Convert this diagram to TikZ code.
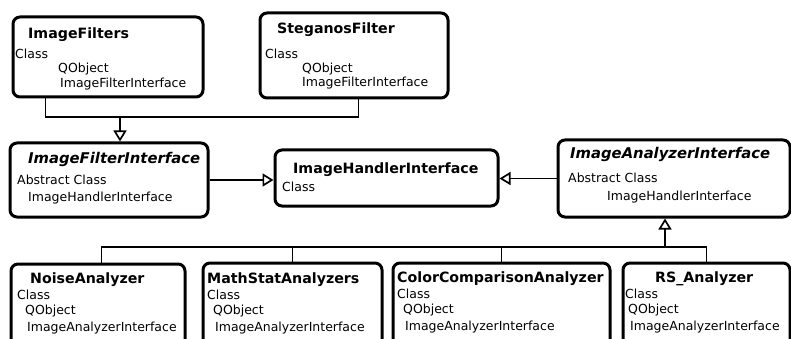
\documentclass[tikz,border=0pt]{standalone}
\usepackage{fontspec}
\setmainfont{DejaVu Sans}
\usepackage{tikz}
\usetikzlibrary{positioning,arrows.meta}
\tikzstyle{classbox} = [rectangle, rounded corners=7pt, draw=black, line width=3pt, anchor=north west, inner sep=0pt]
\tikzstyle{classtext} = [anchor=north west, align=left, inner sep=0pt, font=\fontsize{12.5}{14.5}\selectfont]
\tikzstyle{line} = [draw, line width=1.7pt]
\tikzstyle{arrow} = [draw, line width=1.7pt, -{Triangle[open, length=11pt, width=13pt]}]
\newcommand{\clsname}[1]{{\fontsize{14.2}{15}\selectfont\bfseries #1}}
\newcommand{\absname}[1]{{\fontsize{14.8}{15}\selectfont\bfseries\itshape #1}}

\begin{document}
\begin{tikzpicture}[x=1pt, y=-1pt]
    \useasboundingbox (0,0) rectangle (791,339);

    % top row
    \node (filt) [classbox, minimum width=190pt, minimum height=80pt] at (11.5,15.5) {};
    \node (steg) [classbox, minimum width=188pt, minimum height=85pt] at (258.5,11.5) {};
    \node (filt-t) [classtext] at (15,27.2) {\hspace*{13pt}\clsname{ImageFilters}\\[5.5pt] Class\\ \hspace*{43pt}QObject\\[0.5pt] \hspace*{45pt}ImageFilterInterface};
    \node (steg-t) [classtext] at (265,22.2) {\hspace*{12pt}\clsname{SteganosFilter}\\[10.5pt] Class\\ \hspace*{37pt}QObject\\[-1pt] \hspace*{37pt}ImageFilterInterface};

    % middle row
    \node (fint) [classbox, minimum width=198pt, minimum height=74pt] at (8.5,141.5) {};
    \node (hand) [classbox, minimum width=223pt, minimum height=56pt] at (273.5,148.5) {};
    \node (aint) [classbox, minimum width=232pt, minimum height=77pt] at (556.5,138.5) {};
    \node (fint-t) [classtext] at (17,152) {\hspace*{11pt}\absname{ImageFilterInterface}\\[6.5pt] Abstract Class\\[2.5pt] \hspace*{11pt}ImageHandlerInterface};
    \node (hand-t) [classtext] at (282,162.2) {\hspace*{11pt}\clsname{ImageHandlerInterface}\\[3.5pt] Class};
    \node (aint-t) [classtext] at (568,147) {\hspace*{2pt}\absname{ImageAnalyzerInterface}\\[9.5pt] Abstract Class\\[3.5pt] \hspace*{39pt}ImageHandlerInterface};

    % bottom row
    \node (noise) [classbox, minimum width=174pt, minimum height=100pt] at (9.5,262.5) {};
    \node (math) [classbox, minimum width=179pt, minimum height=100pt] at (201.5,261.5) {};
    \node (color) [classbox, minimum width=217pt, minimum height=100pt] at (391.5,261.5) {};
    \node (rs) [classbox, minimum width=167pt, minimum height=100pt] at (621.5,261.5) {};
    \node (noise-t) [classtext] at (17,272.2) {\hspace*{13pt}\clsname{NoiseAnalyzer}\\[1.5pt] Class\\[0.5pt] \hspace*{8pt}QObject\\[2.5pt] \hspace*{10pt}ImageAnalyzerInterface};
    \node (math-t) [classtext] at (207,272.2) {\clsname{MathStatAnalyzers}\\[1.5pt] Class\\[0.5pt] \hspace*{6pt}QObject\\[2.5pt] \hspace*{8pt}ImageAnalyzerInterface};
    \node (color-t) [classtext] at (397,271.2) {\clsname{ColorComparisonAnalyzer}\\[1.5pt] Class\\[0.5pt] \hspace*{6pt}QObject\\[2.5pt] \hspace*{8pt}ImageAnalyzerInterface};
    \node (rs-t) [classtext] at (625,271.2) {\hspace*{30pt}\clsname{RS\_Analyzer}\\[1.5pt] Class\\[0.5pt] \hspace*{3pt}QObject\\[2.5pt] \hspace*{5pt}ImageAnalyzerInterface};

    \coordinate (fjoin) at (120,117);
    \coordinate (ajoin) at (665,247);

    \draw [line] ([xshift=34pt]filt.south west) |- (fjoin) -| ([xshift=100pt]steg.south west);
    \draw [arrow] (fjoin) -- (fint.north -| fjoin);

    \draw [arrow] (fint.east) -- (fint.east -| hand.west);
    \draw [arrow] (aint.west) -- (aint.west -| hand.east);

    \draw [line] ([xshift=3.5pt]noise.north) |- (ajoin) -| (rs.north);
    \draw [line] (math.north) -- (math.north |- ajoin);
    \draw [line] (color.north) -- (color.north |- ajoin);
    \draw [arrow] (ajoin) -- (aint.south -| ajoin);

\end{tikzpicture}
\end{document}
